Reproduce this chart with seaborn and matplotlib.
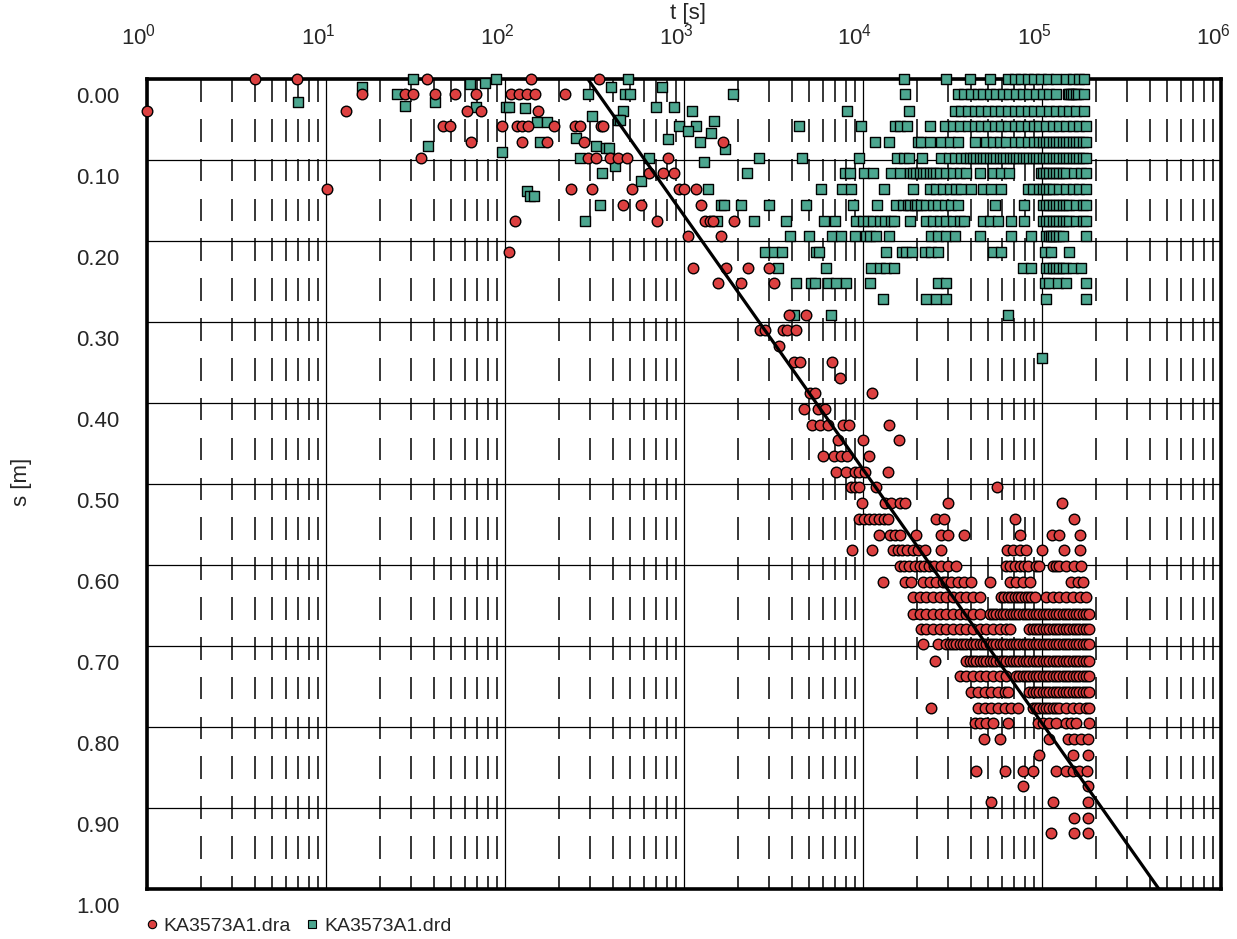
import numpy as np
import pandas as pd
import matplotlib
matplotlib.use('Agg')
import matplotlib.pyplot as plt
import matplotlib.transforms as mtransforms
from matplotlib.lines import Line2D
import seaborn as sns

# logger resolution levels of s [m], row k of the lists below sits on s_levels[k]
s_levels = [0.000, 0.019, 0.039, 0.058, 0.078, 0.097, 0.116, 0.136, 0.155, 0.175,
            0.194, 0.213, 0.233, 0.252, 0.272, 0.291, 0.310, 0.330, 0.349, 0.369,
            0.388, 0.407, 0.427, 0.446, 0.466, 0.485, 0.504, 0.524, 0.543, 0.563,
            0.582, 0.601, 0.621, 0.640, 0.660, 0.679, 0.698, 0.718, 0.737, 0.757,
            0.776, 0.795, 0.815, 0.834, 0.854, 0.873, 0.892, 0.912, 0.931]

# KA3573A1.dra, t [s] per level
dra_t_rows = [
    [4.0, 6.9, 36.8, 140.6, 335],
    [15.9, 27.7, 30.7, 40.5, 52.5, 69, 108, 120, 133, 148, 216],
    [1.0, 12.9, 61, 73, 152],
    [45, 49.2, 96.8, 117, 125, 135, 187, 247, 262, 343, 353],
    [64.7, 125, 172, 275, 1652],
    [33.9, 291, 321, 385, 428, 481, 814],
    [638, 764, 880],
    [10.1, 233, 306, 511, 938, 1000, 1172],
    [457, 573, 1240],
    [113.5, 704, 1306, 1393, 1452, 1901],
    [1053, 1603],
    [105],
    [1122, 1709, 2277, 2985],
    [1549, 2091, 3169],
    [],
    [3855, 4820],
    [2646, 2833, 3571, 3758, 4237],
    [3379],
    [4096, 4467, 6734],
    [7403],
    [5035, 5370, 11270],
    [4659, 5598, 6124],
    [5212, 5774, 6366, 7727, 8337, 13900],
    [7244, 10000, 15860],
    [5975, 6853, 7570, 8130, 10740],
    [7095, 8000, 8980, 9480, 10250, 13770],
    [8620, 8980, 9480, 11750, 55700],
    [9910, 13200, 14400, 16010, 17220, 29800, 129500],
    [9450, 10070, 10740, 11450, 12210, 13030, 13710, 25650, 28200, 71000, 150000],
    [12270, 14200, 15000, 16000, 19660, 27400, 29800, 36900, 74900, 113000, 125000, 162000],
    [8670, 11220, 14690, 15600, 16600, 17700, 19000, 20300, 22200, 27400, 64000, 68700,
     74900, 81600, 100200, 132400, 162000],
    [16000, 17050, 18150, 19400, 20700, 22000, 23500, 25000, 27400, 29800, 33200, 63100,
     66500, 70500, 74900, 79200, 84000, 92600, 96800, 114900, 120000, 125200, 136400,
     150000, 165500],
    [12900, 17080, 18600, 21600, 23550, 25650, 27930, 29160, 31100, 33900, 36900, 40250,
     50900, 65900, 71800, 78200, 85200, 145500, 158500, 169000],
    [19000, 20700, 22550, 24560, 26770, 29160, 31770, 34610, 37720, 41090, 44770, 59200,
     61700, 64600, 67300, 70300, 73300, 76600, 80000, 83500, 87000, 91000, 105500, 114900,
     125200, 136400, 148600, 162000, 176400],
    [19000, 20700, 22550, 24560, 26770, 29160, 31770, 34610, 37720, 41090, 44770, 50910,
     53130, 55460, 57890, 60430, 63070, 65840, 68710, 71720, 74860, 78140, 81560, 85130,
     88850, 92740, 96800, 101040, 105500, 110100, 114900, 119900, 125200, 130700, 136400,
     142400, 148600, 155100, 161900, 169000, 176400, 184100],
    [21100, 22550, 24560, 26770, 29160, 31770, 34610, 37720, 41090, 44770, 48770, 53130,
     57890, 63070, 66000, 85130, 88850, 92740, 96800, 101040, 105500, 110100, 114900,
     119900, 125200, 130700, 136400, 142400, 148600, 155100, 161900, 169000, 176400, 184100],
    [21600, 26200, 29160, 30440, 31770, 33160, 34610, 36130, 37720, 39370, 41090, 42890,
     44770, 46730, 48770, 50910, 53130, 55460, 57890, 60430, 63070, 65840, 68710, 71720,
     74860, 78140, 81560, 85130, 88850, 92740, 96800, 101040, 105500, 110100, 114900,
     119900, 125200, 130700, 136400, 142400, 148600, 155100, 161900, 169000, 176400, 184100],
    [25100, 37720, 39370, 41090, 42890, 44770, 46730, 48770, 50910, 53130, 55460, 57890,
     60430, 63070, 65840, 68710, 71720, 74860, 78140, 81560, 85130, 88850, 92740, 96800,
     101040, 105500, 110100, 114900, 119900, 125200, 130700, 136400, 142400, 148600,
     155100, 161900, 169000, 176400, 184100],
    [34610, 37720, 41090, 44770, 48770, 53130, 57890, 63070, 71720, 74860, 78140, 81560,
     85130, 88850, 92740, 96800, 101040, 105500, 110100, 114900, 119900, 125200, 130700,
     136400, 142400, 148600, 155100, 161900, 169000, 176400, 184100],
    [40250, 43850, 47780, 52060, 56720, 61790, 64600, 85130, 88850, 92740, 96800, 101040,
     105500, 110100, 114900, 119900, 125200, 130700, 136400, 142400, 148600, 155100,
     161900, 169000, 176400, 184100],
    [24000, 43850, 47780, 52060, 56720, 61790, 67320, 73350, 88850, 92740, 96800, 101040,
     105500, 110100, 114900, 119900, 125200, 136400, 148600, 161900, 176400, 184100],
    [42000, 44770, 48770, 53130, 64600, 94800, 101100, 110100, 119900, 136400, 145500,
     155000, 184000],
    [47700, 58400, 110100, 139400, 151800, 165400, 181000],
    [96000, 148600, 181000],
    [43000, 62500, 78200, 89600, 119900, 136400, 148600, 161900, 179000],
    [78800, 181000],
    [52200, 114900, 181000],
    [151800, 181000],
    [112500, 151800, 181000],
]

# KA3573A1.drd, t [s] per level
drd_t_rows = [
    [30.7, 88.9, 485, 16860, 29200, 39370, 50920, 64400, 70300, 76500, 83400, 90800, 98900,
     107900, 119900, 136400, 148600, 161900, 172600],
    [24.8, 291, 467, 497, 1879, 17220, 33900, 36900, 40250, 43850, 46770, 50920, 55400,
     60400, 65800, 71700, 78100, 85130, 92800, 101100, 110100, 119900, 139400, 142400,
     145500, 148600, 155100, 158500, 172600],
    [457, 1109, 8170, 18030, 32450, 35400, 38540, 42000, 45730, 49800, 54300, 59200, 64400,
     70300, 76500, 83400, 90800, 98900, 110100, 119900, 130600, 142300, 155300, 172600],
    [938, 1173, 4385, 9780, 15030, 16000, 17580, 23550, 28560, 31770, 34610, 38540, 42000,
     45730, 49800, 54300, 59200, 64400, 70300, 76500, 83400, 90800, 96800, 105500, 114900,
     125200, 136400, 148600, 161900, 176400],
    [156, 1235, 11610, 13900, 20170, 21070, 23550, 27360, 30460, 33900, 42000, 48770, 53130,
     57890, 63070, 70300, 76500, 83400, 90800, 96800, 101040, 105500, 110100, 114900,
     119900, 125200, 130700, 136400, 142400, 148600, 155100, 161900, 169000, 176400],
    [262, 635, 2624, 4581, 9450, 15530, 16900, 18030, 21430, 27360, 30100, 32450, 35400,
     37720, 39370, 41090, 42890, 44770, 46730, 48770, 50910, 53130, 55460, 57890, 60430,
     63070, 65840, 68710, 71720, 74860, 78140, 81560, 85130, 88850, 92740, 96800, 101040,
     105500, 110100, 114900, 119900, 125200, 130700, 136400, 142400, 148600, 155100,
     161900, 169000, 176400],
    [350, 2259, 7890, 8410, 10120, 11320, 14380, 16000, 18200, 19000, 19830, 20700, 21600,
     22550, 23540, 24560, 25640, 26770, 29160, 31770, 34610, 37720, 44770, 53130, 59200,
     65800, 98900, 101040, 105500, 110100, 114900, 119900, 125200, 130700, 136400, 151800,
     165400, 176400],
    [1363, 5850, 7660, 8530, 13030, 19000, 23550, 25650, 27930, 30460, 33200, 35400, 40250,
     46770, 52000, 59200, 83400, 88850, 96800, 101040, 105500, 110100, 114900, 125200,
     136400, 148600, 161900, 176400],
    [338, 1603, 1666, 2073, 2972, 4782, 8790, 12010, 15350, 16710, 17820, 18200, 19410,
     20000, 21180, 22550, 24560, 26100, 28560, 31100, 33900, 54300, 79800, 101040, 105500,
     110100, 114900, 119900, 125200, 130700, 136400, 142300, 155000, 169000, 176400],
    [279, 1537, 2459, 3699, 6054, 6940, 9180, 9980, 10650, 11350, 12380, 13200, 14390,
     14880, 18370, 22550, 24560, 26770, 29160, 31770, 34610, 36900, 46770, 50920, 56600,
     67300, 79800, 101040, 105500, 110100, 114900, 119900, 125200, 130700, 136400, 142300,
     155000, 169000, 176400],
    [3890, 4990, 6740, 7570, 8980, 10430, 10890, 11860, 13900, 24060, 26200, 29160, 32450,
     44770, 67300, 87100, 105500, 110100, 112500, 114900, 119900, 125200, 130600, 176400],
    [2823, 3169, 3540, 5485, 5675, 13370, 16490, 17440, 18680, 22070, 24060, 26200, 53130,
     59200, 103500, 112500, 142300],
    [3350, 6240, 11120, 12380, 13490, 14880, 78200, 87100, 105500, 110100, 114900, 119900,
     125200, 130700, 136400, 148600, 165400],
    [4243, 5146, 5370, 6370, 7100, 8070, 10990, 26200, 29160, 103500, 110100, 122700,
     136400, 176400],
    [12910, 22550, 25700, 29160, 105500, 176400],
    [4112, 6650, 64400],
]

# drd points that sit between the levels
drd_extra_t = [7.0, 15.9, 27.8, 37.2, 40.5, 64.1, 77.1, 69.3, 101, 105, 129, 96.8, 151, 172,
               133, 138, 145, 393, 306, 428, 441, 248, 321, 365, 381, 410, 573, 754, 701,
               880, 814, 1053, 1294, 1410, 1471, 1687, 100000]
drd_extra_s = [0.029, 0.010, 0.033, 0.083, 0.028, 0.006, 0.005, 0.035, 0.034, 0.034, 0.036,
               0.090, 0.053, 0.053, 0.138, 0.145, 0.144, 0.010, 0.046, 0.051, 0.051, 0.073,
               0.083, 0.085, 0.085, 0.108, 0.126, 0.010, 0.034, 0.035, 0.074, 0.064, 0.103,
               0.067, 0.052, 0.087, 0.344]

# straight-line fit
line_t = [290, 4.5e5]
line_s = [0.0, 1.0]

x_ticks = [1, 10, 100, 1e3, 1e4, 1e5, 1e6]
y_ticks = [0.0, 0.1, 0.2, 0.3, 0.4, 0.5, 0.6, 0.7, 0.8, 0.9, 1.0]
y_labels = ['0.00', '0.10', '0.20', '0.30', '0.40', '0.50', '0.60', '0.70', '0.80', '0.90', '1.00']

red = '#DC4040'
teal = '#4CA68F'

dra = pd.DataFrame([(t, s_levels[k]) for k, row in enumerate(dra_t_rows) for t in row],
                   columns=['t', 's'])
drd = pd.DataFrame([(t, s_levels[k]) for k, row in enumerate(drd_t_rows) for t in row]
                   + list(zip(drd_extra_t, drd_extra_s)), columns=['t', 's'])

sns.set_theme(style='white')
plt.rcParams['font.family'] = ['Liberation Sans', 'DejaVu Sans']
plt.rcParams['mathtext.default'] = 'regular'

W, H = 1237, 939
fig = plt.figure(figsize=(W / 100, H / 100), dpi=100)
ax = fig.add_axes([147 / W, 1 - 889 / H, (1221 - 147) / W, (889 - 79) / H])
ax.set_xscale('log')
ax.set_xlim(1, 1e6)
ax.set_ylim(1.0, 0.0)

# broken minor verticals: short dashes hanging below every ~0.05
minor_x = [m * 10.0 ** d for d in range(6) for m in range(2, 10)]
for k in range(21):
    c = k * 0.0492
    ax.vlines(minor_x, c, c + 0.028, color='black', lw=1.1, zorder=1)

ax.grid(True, which='major', color='black', lw=0.9)
ax.set_axisbelow(True)

sns.scatterplot(data=drd, x='t', y='s', marker='s', color=teal, edgecolor='black',
                linewidth=1.0, s=50, ax=ax, zorder=3, clip_on=False, legend=False)
sns.scatterplot(data=dra, x='t', y='s', marker='o', color=red, edgecolor='black',
                linewidth=1.0, s=58, ax=ax, zorder=4, clip_on=False, legend=False)
sns.lineplot(x=line_t, y=line_s, color='black', lw=2.3, ax=ax, zorder=5)

ax.set_xticks(x_ticks)
ax.xaxis.set_minor_locator(matplotlib.ticker.NullLocator())
ax.xaxis.tick_top()
ax.set_yticks(y_ticks, labels=y_labels)
ax.tick_params(axis='x', length=0, pad=21, labelsize=16)
ax.tick_params(axis='y', length=0, pad=20, labelsize=16)
ax.set_xlabel('')
ax.set_ylabel('')
for sp in ax.spines.values():
    sp.set_linewidth(2.6)
    sp.set_color('black')

# labels in the original sit a little off their grid lines
dy = mtransforms.ScaledTranslation(0, -0.16, fig.dpi_scale_trans)
for tk in ax.yaxis.get_major_ticks():
    tk.label1.set_transform(tk.label1.get_transform() + dy)
dx = mtransforms.ScaledTranslation(-0.08, 0, fig.dpi_scale_trans)
for tk in ax.xaxis.get_major_ticks():
    tk.label2.set_transform(tk.label2.get_transform() + dx)

fig.text(688 / W, 1 - 14 / H, 't [s]', ha='center', va='center', fontsize=16)
fig.text(22 / W, 1 - 482 / H, 's [m]', ha='center', va='center', rotation=90, fontsize=16)

handles = [Line2D([], [], marker='o', ls='', mfc=red, mec='black', mew=0.8, ms=6),
           Line2D([], [], marker='s', ls='', mfc=teal, mec='black', mew=0.8, ms=6)]
fig.legend(handles, ['KA3573A1.dra', 'KA3573A1.drd'], loc='center left',
           bbox_to_anchor=(146 / W, 1 - 926 / H), ncol=2, frameon=False, fontsize=14,
           handlelength=0.6, handletextpad=0.3, columnspacing=0.8, borderpad=0,
           borderaxespad=0)

fig.savefig('out.png', dpi=100)
